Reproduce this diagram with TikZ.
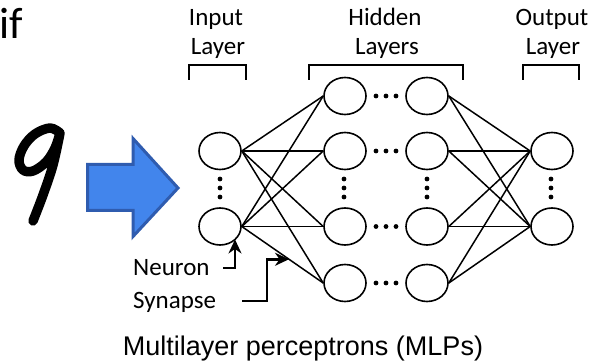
\documentclass[tikz,border=0pt]{standalone}
\usepackage{fontspec}
\setmainfont{Carlito}
\newfontfamily\capfont{Liberation Sans}
\usetikzlibrary{shapes.geometric,arrows.meta,calc}
\definecolor{arrowfill}{RGB}{66,133,236}
\definecolor{arrowedge}{RGB}{47,92,175}
\tikzset{
  neuron/.style={draw, ellipse, line width=1.6pt, minimum width=42pt, minimum height=37pt, inner sep=0pt},
  synapse/.style={line width=1.5pt},
  bracket/.style={line width=1.6pt},
  dotmark/.style={fill=black, draw=none},
  lbl/.style={font=\fontsize{25}{30}\selectfont, inner sep=0pt, anchor=base},
  pointer/.style={line width=2.8pt, -{Stealth[length=14pt, width=13pt]}},
}
\begin{document}
\begin{tikzpicture}[x=1pt, y=-1pt]
\useasboundingbox (0,0) rectangle (591,363);

% partial word in the corner
\node[font=\fontsize{44}{50}\selectfont, inner sep=0pt, anchor=base west] (word) at (-1,39) {if};

% handwritten digit
\draw[line width=9.5pt, line cap=round, line join=round]
  plot[smooth, tension=0.6] coordinates {(60,133) (50,128) (35,134) (24,146) (19,160) (23,170) (33,171) (46,162) (55,148) (60,133)}
  plot[smooth, tension=0.6] coordinates {(60,133) (53,165) (43,195) (33,221)};

% input arrow
\draw[fill=arrowfill, draw=arrowedge, line width=3pt, line join=miter]
  (87.5,164.5) -- (133,164.5) -- (133,138.5) -- (178,188) -- (133,236.5) -- (133,210.5) -- (87.5,210.5) -- cycle;

% layer titles
\node[lbl] (tin1) at (216,26) {Input};
\node[lbl] (tin2) at (218,55) {Layer};
\node[lbl] (thid1) at (385,26) {Hidden};
\node[lbl] (thid2) at (387,55) {Layers};
\node[lbl] (tout1) at (552,26) {Output};
\node[lbl] (tout2) at (553,55) {Layer};

% brackets
\draw[bracket] (189,80) -- (189,65) -- (246,65) -- (246,80);
\draw[bracket] (309,80) -- (309,65) -- (463,65) -- (463,80);
\draw[bracket] (523,80) -- (523,65) -- (579,65) -- (579,80);

% neurons
\node[neuron] (i1) at (220,151) {};
\node[neuron] (i2) at (220,226.5) {};
\node[neuron] (h11) at (345,96) {};
\node[neuron] (h12) at (345,151) {};
\node[neuron] (h13) at (345,226.5) {};
\node[neuron] (h14) at (345,283) {};
\node[neuron] (h21) at (427,96) {};
\node[neuron] (h22) at (427,151) {};
\node[neuron] (h23) at (427,226.5) {};
\node[neuron] (h24) at (427,283) {};
\node[neuron] (o1) at (552,151) {};
\node[neuron] (o2) at (552,226.5) {};

% synapses
\foreach \a in {i1,i2}
  \foreach \b in {h11,h12,h13,h14}
    \draw[synapse] (\a.east) -- (\b.west);
\foreach \a in {h21,h22,h23,h24}
  \foreach \b in {o1,o2}
    \draw[synapse] (\a.east) -- (\b.west);

% vertical ellipsis dots
\foreach \x in {220,344,427,551}
  \foreach \y in {179,188,197}
    \fill[dotmark] (\x,\y) circle (2.4pt);
% horizontal ellipsis dots
\foreach \y in {96,151,226.5,283}
  \foreach \x in {376,386,396}
    \fill[dotmark] (\x,\y) circle (2.4pt);

% annotations
\node[lbl, anchor=base west] (neu) at (133,275) {Neuron};
\node[lbl, anchor=base west] (syn) at (133,308) {Synapse};
\coordinate (nstart) at (223,268);
\coordinate (ntip) at ($(i2.center)+(15,13)$);
\draw[pointer] (nstart) -| (ntip);
\coordinate (sstart) at (242,301);
\coordinate (stip) at ($(i2.east)!0.58!(h14.west)$);
\draw[pointer] (sstart) -- (267,301) |- (stip);

% caption
\node[font=\capfont\fontsize{27}{32}\selectfont, inner sep=0pt, anchor=base] (cap) at (303,355) {Multilayer perceptrons (MLPs)};
\end{tikzpicture}
\end{document}
